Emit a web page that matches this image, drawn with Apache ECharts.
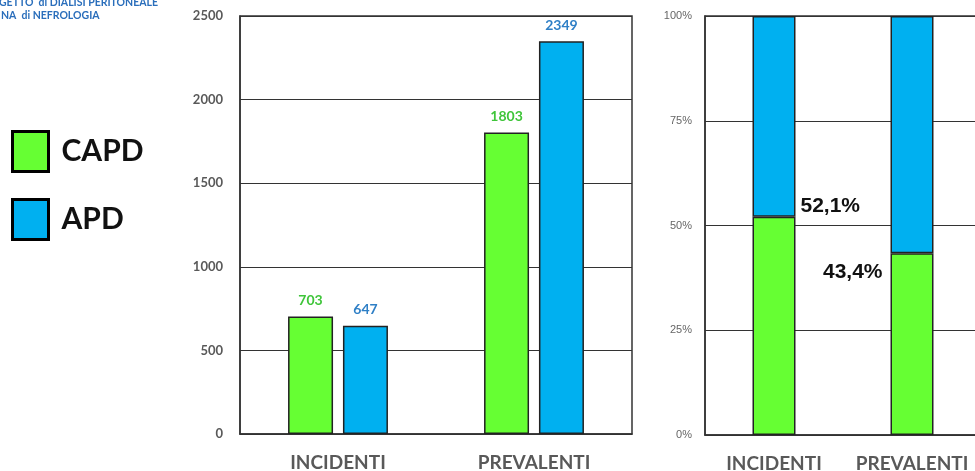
<!DOCTYPE html>
<html>
<head>
<meta charset="utf-8">
<script src="https://cdn.jsdelivr.net/npm/echarts@6/dist/echarts.min.js"></script>
<style>
  html, body { margin: 0; padding: 0; background: #fff; }
  #chart { width: 975px; height: 471px; }
</style>
</head>
<body>
<div id="chart"></div>
<script>
// Patient counts by dialysis modality
const categories = ['INCIDENTI', 'PREVALENTI'];
const capdCounts = [703, 1803];
const apdCounts = [647, 2349];

// Share of CAPD / APD within each group (%)
const capdShare = [52.1, 43.4];
const apdShare = [47.9, 56.6];

const countTicks = { min: 0, max: 2500, interval: 500 };
const shareTicks = { min: 0, max: 100, interval: 25 };

const GREEN = '#66ff33';
const BLUE = '#00b0f0';
const GREEN_TXT = '#3fc53a';
const BLUE_TXT = '#2e7fc6';
const AXIS_TXT = '#595959';
const FONT = 'Lato, "Open Sans", sans-serif';

const chart = echarts.init(document.getElementById('chart'));

const fmtComma = v => String(v).replace('.', ',') + '%';

chart.setOption({
  animation: false,
  backgroundColor: '#fff',
  graphic: [
    { type: 'text', left: -1, top: -3,
      style: { text: 'GETTO  di DIALISI PERITONEALE', fill: '#2a6ebb', font: 'bold 10.5px ' + FONT } },
    { type: 'text', left: 1, top: 10,
      style: { text: 'NA  di NEFROLOGIA', fill: '#2a6ebb', font: 'bold 10.5px ' + FONT } }
  ],
  legend: {
    orient: 'vertical',
    left: 11,
    top: 130,
    padding: 0,
    itemWidth: 36,
    itemHeight: 40,
    itemGap: 25,
    icon: 'rect',
    data: ['CAPD', 'APD'],
    itemStyle: { borderColor: '#000', borderWidth: 3 },
    textStyle: { fontFamily: FONT, fontWeight: 'bold', fontSize: 30, color: '#111', padding: [0, 0, 0, 8] },
    selectedMode: false
  },
  grid: [
    { left: 240, top: 16, width: 392, height: 418, show: true, borderColor: '#333', borderWidth: 1.5,
      outerBoundsMode: 'none' },
    { left: 705, top: 16, width: 276, height: 419, show: true, borderColor: '#333', borderWidth: 1.5,
      outerBoundsMode: 'none' }
  ],
  xAxis: [
    { type: 'category', gridIndex: 0, data: categories,
      axisLine: { lineStyle: { color: '#333', width: 1.5 } },
      axisTick: { show: false },
      axisLabel: { interval: 0, margin: 19, color: AXIS_TXT, fontFamily: FONT, fontWeight: 'bold', fontSize: 19 } },
    { type: 'category', gridIndex: 1, data: categories,
      axisLine: { lineStyle: { color: '#333', width: 1.5 } },
      axisTick: { show: false },
      axisLabel: { interval: 0, hideOverlap: false, margin: 19, color: AXIS_TXT, fontFamily: FONT, fontWeight: 'bold', fontSize: 19 } }
  ],
  yAxis: [
    { type: 'value', gridIndex: 0, min: countTicks.min, max: countTicks.max, interval: countTicks.interval,
      axisLine: { show: true, lineStyle: { color: '#333', width: 1.5 } },
      axisTick: { show: false },
      splitLine: { lineStyle: { color: '#333', width: 1.2 } },
      axisLabel: { margin: 17, color: AXIS_TXT, fontFamily: FONT, fontWeight: 'bold', fontSize: 13,
        formatter: v => String(v) } },
    { type: 'value', gridIndex: 1, min: shareTicks.min, max: shareTicks.max, interval: shareTicks.interval,
      axisLine: { show: true, lineStyle: { color: '#333', width: 1.5 } },
      axisTick: { show: false },
      splitLine: { lineStyle: { color: '#333', width: 1.2 } },
      axisLabel: { margin: 13, color: '#666', fontFamily: 'Liberation Sans, Arial, sans-serif', fontSize: 11,
        formatter: v => v + '%' } }
  ],
  series: [
    { name: 'CAPD', type: 'bar', xAxisIndex: 0, yAxisIndex: 0, data: capdCounts,
      barWidth: 45, barGap: '22%',
      itemStyle: { color: GREEN, borderColor: '#222', borderWidth: 1.5 },
      label: { show: true, position: 'top', distance: 9, color: GREEN_TXT,
        fontFamily: FONT, fontWeight: 'bold', fontSize: 14 } },
    { name: 'APD', type: 'bar', xAxisIndex: 0, yAxisIndex: 0, data: apdCounts,
      barWidth: 45, barGap: '22%',
      itemStyle: { color: BLUE, borderColor: '#222', borderWidth: 1.5 },
      label: { show: true, position: 'top', distance: 9, color: BLUE_TXT,
        fontFamily: FONT, fontWeight: 'bold', fontSize: 14 } },
    { name: 'CAPD', type: 'bar', xAxisIndex: 1, yAxisIndex: 1, stack: 'share',
      barWidth: 43,
      data: [
        { value: capdShare[0], label: { show: true, position: [48, -10], align: 'left', verticalAlign: 'middle' } },
        { value: capdShare[1], label: { show: true, position: [-8, 19], align: 'right', verticalAlign: 'middle' } }
      ],
      itemStyle: { color: GREEN, borderColor: '#222', borderWidth: 1.5 },
      label: { color: '#111', fontFamily: 'Liberation Sans, Arial, sans-serif', fontWeight: 'bold', fontSize: 21,
        formatter: p => fmtComma(p.value) } },
    { name: 'APD', type: 'bar', xAxisIndex: 1, yAxisIndex: 1, stack: 'share',
      barWidth: 43, data: apdShare,
      itemStyle: { color: BLUE, borderColor: '#222', borderWidth: 1.5 } }
  ]
});
</script>
</body>
</html>
